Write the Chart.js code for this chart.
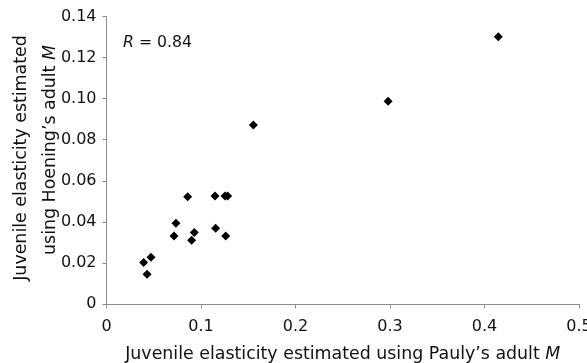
<!DOCTYPE html>
<html>
<head>
<meta charset="utf-8">
<script src="https://cdn.jsdelivr.net/npm/chart.js@4"></script>
<style>
  html, body { margin: 0; padding: 0; background: #fff; }
  canvas { display: block; }
</style>
</head>
<body>
<canvas id="elasticityChart" width="587" height="363"></canvas>
<script>
// Juvenile elasticity: Pauly's adult M (x) vs Hoening's adult M (y)
const paulyM = [0.4146, 0.298, 0.1554, 0.0859, 0.1148, 0.1254, 0.1282, 0.0735,
                0.0714, 0.0929, 0.0901, 0.1155, 0.1261, 0.0393, 0.0471, 0.0429];
const hoeningM = [0.1303, 0.0988, 0.0873, 0.0524, 0.0527, 0.0527, 0.0527, 0.0394,
                  0.0333, 0.0349, 0.0312, 0.0370, 0.0333, 0.0204, 0.0229, 0.0146];
const xTicks = [0, 0.1, 0.2, 0.3, 0.4, 0.5];
const yTicks = [0, 0.02, 0.04, 0.06, 0.08, 0.10, 0.12, 0.14];
const rValue = '0.84';

const FONT = '"DejaVu Sans", sans-serif';
const AXIS_GREY = '#8c8c8c';

// draws text pieces in a row, some of them italic
function drawMixed(ctx, parts, x, y, size, align) {
  const fontFor = p => (p.italic ? 'italic ' : '') + size + 'px ' + FONT;
  let total = 0;
  parts.forEach(p => { ctx.font = fontFor(p); total += ctx.measureText(p.text).width; });
  let cx = align === 'center' ? x - total / 2 : x;
  ctx.textAlign = 'left';
  ctx.textBaseline = 'alphabetic';
  parts.forEach(p => {
    ctx.font = fontFor(p);
    ctx.fillText(p.text, cx, y);
    cx += ctx.measureText(p.text).width;
  });
}

const labelsPlugin = {
  id: 'axisTitles',
  afterDraw(chart) {
    const ctx = chart.ctx;
    const area = chart.chartArea;
    ctx.save();
    ctx.fillStyle = '#111';
    const midX = (area.left + area.right) / 2;
    drawMixed(ctx, [{ text: 'Juvenile elasticity estimated using Pauly\u2019s adult ' }, { text: 'M', italic: true }],
      midX, 359.3, 17.4, 'center');

    ctx.save();
    ctx.translate(26, 158);
    ctx.rotate(-Math.PI / 2);
    drawMixed(ctx, [{ text: 'Juvenile elasticity estimated' }], 0, 0, 17.4, 'center');
    ctx.restore();

    ctx.save();
    ctx.translate(55, 150);
    ctx.rotate(-Math.PI / 2);
    drawMixed(ctx, [{ text: 'using Hoening\u2019s adult ' }, { text: 'M', italic: true }], 0, 0, 17.4, 'center');
    ctx.restore();

    drawMixed(ctx, [{ text: 'R', italic: true }, { text: ' = ' + rValue }], 123, 47, 15.7, 'left');
    ctx.restore();
  }
};

const points = paulyM.map((x, i) => ({ x: x, y: hoeningM[i] }));

new Chart(document.getElementById('elasticityChart').getContext('2d'), {
  type: 'scatter',
  data: {
    datasets: [{
      data: points,
      pointStyle: 'rectRot',
      pointRadius: 4.5,
      pointHoverRadius: 4.5,
      backgroundColor: '#000',
      borderColor: '#000',
      borderWidth: 0
    }]
  },
  options: {
    responsive: false,
    animation: false,
    layout: { padding: { top: 16.7, right: 8, left: 0, bottom: 0 } },
    plugins: { legend: { display: false }, tooltip: { enabled: false } },
    scales: {
      x: {
        type: 'linear',
        min: 0,
        max: 0.5,
        afterBuildTicks: scale => { scale.ticks = xTicks.map(v => ({ value: v })); },
        afterFit: scale => { scale.height = 58.7; scale.paddingLeft = 0; scale.paddingRight = 0; },
        grid: { drawOnChartArea: false, drawTicks: true, tickLength: 4, color: AXIS_GREY },
        border: { color: AXIS_GREY, width: 1 },
        ticks: {
          padding: 9,
          color: '#111',
          font: { family: FONT, size: 16 },
          callback: v => (v === 0 ? '0' : v.toFixed(1))
        }
      },
      y: {
        type: 'linear',
        min: 0,
        max: 0.14,
        afterBuildTicks: scale => { scale.ticks = yTicks.map(v => ({ value: v })); },
        afterFit: scale => { scale.width = 106.5; scale.paddingTop = 0; scale.paddingBottom = 0; },
        grid: { drawOnChartArea: false, drawTicks: true, tickLength: 4, color: AXIS_GREY },
        border: { color: AXIS_GREY, width: 1 },
        ticks: {
          padding: 6,
          color: '#111',
          font: { family: FONT, size: 16 },
          callback: v => (v === 0 ? '0' : v.toFixed(2))
        }
      }
    }
  },
  plugins: [labelsPlugin]
});
</script>
</body>
</html>
